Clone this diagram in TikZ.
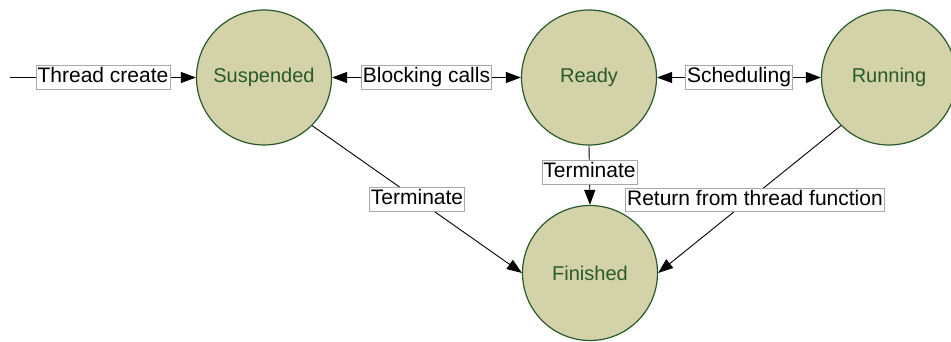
\documentclass[tikz,border=0pt]{standalone}
\usepackage{fontspec}
\setmainfont{Liberation Sans}
\usetikzlibrary{arrows.meta}
\definecolor{statefill}{HTML}{D3D2A8}
\definecolor{stateline}{HTML}{2A5A2A}
\definecolor{boxline}{HTML}{A8A8A8}
\tikzset{
  state/.style={circle, draw=stateline, line width=1.2pt, fill=statefill,
    minimum size=135pt, inner sep=0pt, text=stateline,
    font=\fontsize{20}{22}\selectfont},
  elabel/.style={draw=boxline, line width=0.6pt, fill=white, inner sep=1.5pt,
    text height=15.5pt, text depth=5pt, font=\fontsize{21}{23}\selectfont},
  conn/.style={draw=black, line width=0.9pt},
  onearrow/.style={arrows={-Triangle[length=15pt,width=11pt]}},
  twoarrow/.style={arrows={Triangle[length=15pt,width=11pt]-Triangle[length=15pt,width=11pt]}}
}
\begin{document}
\begin{tikzpicture}[x=1pt,y=-1pt]
\useasboundingbox (0,0) rectangle (951,342);
\node[state] (susp) at (264,77.5) {Suspended};
\node[state] (ready) at (589,77.5) {Ready};
\node[state] (run) at (889,77.5) {Running};
\node[state] (fin) at (590,273) {Finished};
\coordinate (start) at (10,77.5);

\draw[conn,onearrow] (start) -- node[elabel] {Thread create} (susp.west);
\draw[conn,twoarrow] (susp.east) -- node[elabel] {Blocking calls} (ready.west);
\draw[conn,twoarrow] (ready.east) -- node[elabel] {Scheduling} (run.west);
\draw[conn,onearrow] (susp.south east) -- node[elabel] {Terminate} (fin.west);
\draw[conn,onearrow] (run.south west) -- node[elabel, pos=0.47, yshift=-5pt] {Return from thread function} (fin.east);
\draw[conn,onearrow] (ready.south) -- node[elabel, pos=0.45] {Terminate} (fin.north);
\end{tikzpicture}
\end{document}
